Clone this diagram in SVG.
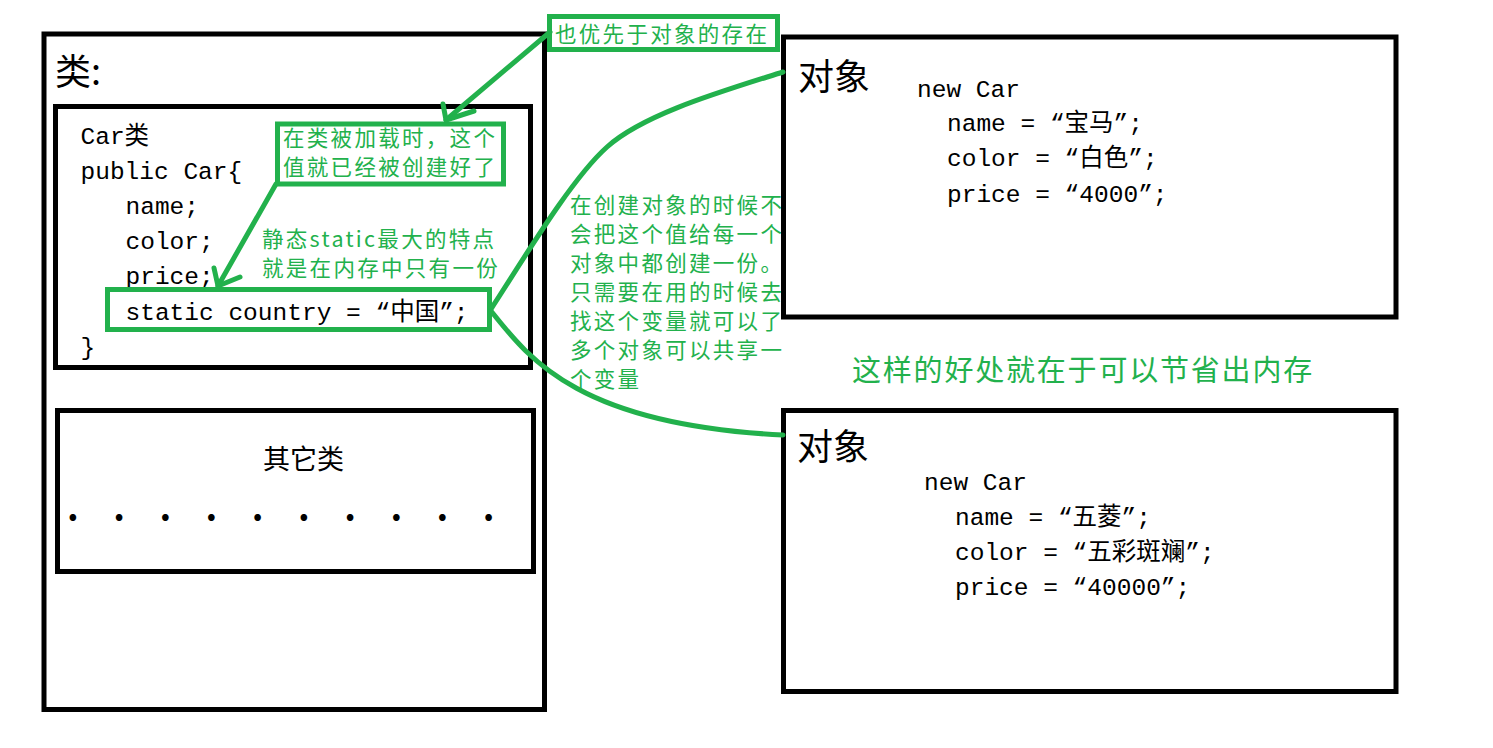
<svg xmlns="http://www.w3.org/2000/svg" width="1493" height="748" viewBox="0 0 1493 748">
  <style>
    .box{fill:none;stroke:#000;stroke-width:5}
    .gbox{fill:none;stroke:#22b14c;stroke-width:5}
    .gline{fill:none;stroke:#22b14c;stroke-width:5;stroke-linecap:round;stroke-linejoin:round}
    .code{font-family:"Liberation Mono","Noto Sans CJK SC",monospace;font-size:24.5px;fill:#000}
    .cjk{font-family:"Noto Sans CJK SC",sans-serif;fill:#000}
    .note{font-family:"Noto Sans CJK SC",sans-serif;font-size:21.5px;letter-spacing:2.3px;fill:#22b14c}
  </style>
  <rect width="1493" height="748" fill="#fff"/>

  <g id="class-area">
    <rect class="box" x="44" y="34" width="500.5" height="675.5"/>
    <text class="cjk" x="55" y="85" font-size="36">类:</text>
  </g>

  <g id="car-class">
    <rect class="box" x="55.5" y="106.5" width="475" height="261"/>
    <text class="code" x="80.5" y="143.5">Car类</text>
    <text class="code" x="80.5" y="178.7">public Car{</text>
    <text class="code" x="125.5" y="213.9">name;</text>
    <text class="code" x="125.5" y="249.1">color;</text>
    <text class="code" x="125.5" y="284.3">price;</text>
    <text class="code" x="80.5" y="354.7">}</text>
  </g>

  <g id="static-field">
    <rect class="gbox" x="107.5" y="289.5" width="382" height="40"/>
    <text class="code" x="125.5" y="319.5">static country = “中国”;</text>
  </g>

  <g id="note-loaded">
    <rect class="gbox" x="277.5" y="124" width="226" height="60"/>
    <text class="note" x="283" y="146">在类被加载时，这个</text>
    <text class="note" x="283" y="175">值就已经被创建好了</text>
  </g>

  <g id="note-static">
    <text class="note" x="262" y="246.5">静态static最大的特点</text>
    <text class="note" x="262" y="275.5">就是在内存中只有一份</text>
  </g>

  <g id="note-before">
    <rect class="gbox" x="549.5" y="16.5" width="228" height="33"/>
    <text class="note" x="555" y="42">也优先于对象的存在</text>
  </g>

  <g id="other-class">
    <rect class="box" x="57.5" y="410.5" width="476" height="161"/>
    <text class="cjk" x="263" y="469" font-size="27">其它类</text>
    <text class="cjk" x="67 113.2 159.4 205.6 251.8 298 344.2 390.4 436.6 482.8" y="521" font-size="36" font-weight="bold" font-family="Liberation Sans, sans-serif">..........</text>
  </g>

  <g id="note-share">
    <text class="note" x="570" y="213">在创建对象的时候不</text>
    <text class="note" x="570" y="242">会把这个值给每一个</text>
    <text class="note" x="570" y="271">对象中都创建一份。</text>
    <text class="note" x="570" y="300">只需要在用的时候去</text>
    <text class="note" x="570" y="329">找这个变量就可以了</text>
    <text class="note" x="570" y="358">多个对象可以共享一</text>
    <text class="note" x="570" y="387">个变量</text>
  </g>

  <g id="object-1">
    <rect class="box" x="783.5" y="37" width="612.5" height="280"/>
    <text class="cjk" x="798" y="90" font-size="36">对象</text>
    <text class="code" x="917" y="96.5">new Car</text>
    <text class="code" x="947" y="131">name = “宝马”;</text>
    <text class="code" x="947" y="166">color = “白色”;</text>
    <text class="code" x="947" y="201.5">price = “4000”;</text>
  </g>

  <g id="note-save">
    <text class="note" x="852" y="381" style="font-size:29px;letter-spacing:1.8px">这样的好处就在于可以节省出内存</text>
  </g>

  <g id="object-2">
    <rect class="box" x="783.5" y="410.5" width="612.5" height="281"/>
    <text class="cjk" x="797" y="460" font-size="36">对象</text>
    <text class="code" x="924" y="490">new Car</text>
    <text class="code" x="955" y="525">name = “五菱”;</text>
    <text class="code" x="955" y="560">color = “五彩斑斓”;</text>
    <text class="code" x="955" y="595">price = “40000”;</text>
  </g>

  <g id="connectors">
    <path class="gline" d="M550,32 L446,120"/>
    <polyline class="gline" points="443,104 446,120 474,111"/>
    <path class="gline" d="M276,184 L218,286"/>
    <polyline class="gline" points="214,268 218,286 240,277"/>
    <path class="gline" d="M491,309 C520,265 570,180 607,147 S720,92 783,72"/>
    <path class="gline" d="M491,311 C530,360 580,425 783,435"/>
  </g>
</svg>
